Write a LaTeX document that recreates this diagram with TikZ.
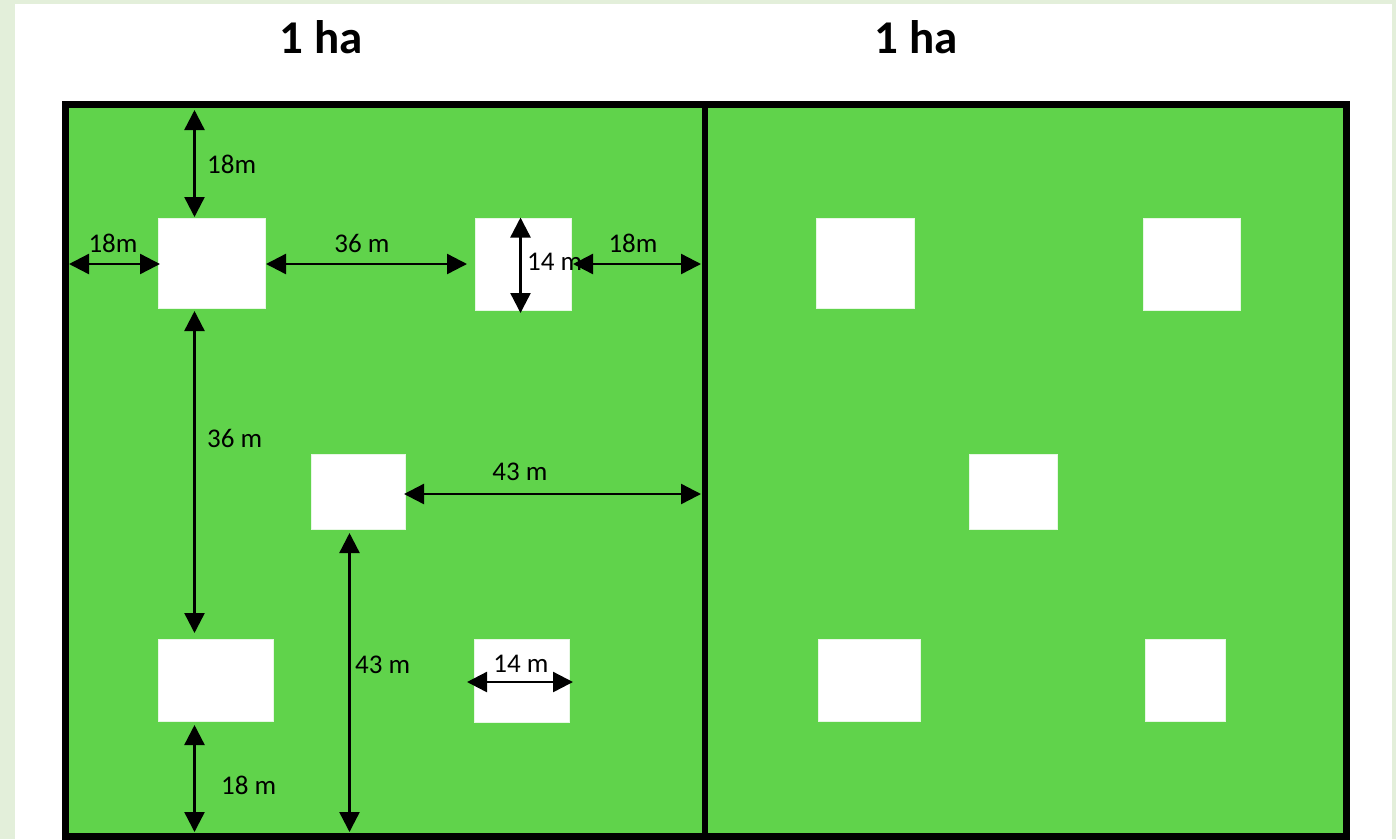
\documentclass[tikz,border=0pt]{standalone}
\usepackage{fontspec}
\setmainfont{Carlito}
\usetikzlibrary{arrows.meta}
\definecolor{bgouter}{RGB}{227,239,218}
\definecolor{field}{RGB}{96,211,75}
\begin{document}
\begin{tikzpicture}[x=1pt,y=-1pt,
  hole/.style={draw=white!85!field,line width=0.8pt,fill=white,inner sep=0pt,outer sep=0pt},
  dim/.style={line width=2.4pt,{Triangle[length=20pt,width=20pt]}-{Triangle[length=20pt,width=20pt]}},
  lbl/.style={inner sep=0pt,anchor=base,font=\fontsize{27}{30}\selectfont},
  ttl/.style={inner sep=0pt,anchor=base,font=\fontsize{47}{50}\selectfont\bfseries}]
\useasboundingbox (0,0) rectangle (1396,839);
\fill[bgouter] (0,0) rectangle (1396,839);
\fill[white] (15,4) rectangle (1392,845);
% field
\fill[field] (65.5,104.5) rectangle (1346.5,836.5);
\draw[line width=7pt] (65.5,104.5) rectangle (1346.5,836.5);
\draw[line width=6.5pt] (705,104.5) -- (705,836.5);
% titles
\node[ttl] (t1) at (321,53) {1 ha};
\node[ttl] (t2) at (916,53) {1 ha};
% holes, left plot
\node[hole,minimum width=107pt,minimum height=90pt] (L1) at (211.5,263) {};
\node[hole,minimum width=96pt,minimum height=92pt] (L2) at (523,264) {};
\node[hole,minimum width=94pt,minimum height=75pt] (L3) at (358,491.5) {};
\node[hole,minimum width=115pt,minimum height=82pt] (L4) at (215.5,680) {};
\node[hole,minimum width=95pt,minimum height=83pt] (L5) at (522,680.5) {};
% holes, right plot
\node[hole,minimum width=98pt,minimum height=90pt] (R1) at (865,263) {};
\node[hole,minimum width=97pt,minimum height=92pt] (R2) at (1191.5,264) {};
\node[hole,minimum width=88pt,minimum height=75pt] (R3) at (1013,491.5) {};
\node[hole,minimum width=102pt,minimum height=82pt] (R4) at (869,680) {};
\node[hole,minimum width=80pt,minimum height=82pt] (R5) at (1185,680) {};
% dimension end points
\coordinate (a1) at (194.5,110);  \coordinate (a2) at (194.5,217);
\coordinate (b1) at (69,264);     \coordinate (b2) at (160,264);
\coordinate (c1) at (266,264);    \coordinate (c2) at (467,264);
\coordinate (d1) at (520.5,217.5);\coordinate (d2) at (520.5,313);
\coordinate (e1) at (573,264);    \coordinate (e2) at (701,264);
\coordinate (f1) at (194.5,311);  \coordinate (f2) at (194.5,633);
\coordinate (g1) at (404,494);    \coordinate (g2) at (701,494);
\coordinate (h1) at (349.5,533);  \coordinate (h2) at (349.5,832);
\coordinate (i1) at (467,682);    \coordinate (i2) at (573,682);
\coordinate (j1) at (194.5,725);  \coordinate (j2) at (194.5,832);
\draw[dim] (a1) -- (a2);
\draw[dim] (b1) -- (b2);
\draw[dim] (c1) -- (c2);
\draw[dim] (d1) -- (d2);
\draw[dim] (e1) -- (e2);
\draw[dim] (f1) -- (f2);
\draw[dim] (g1) -- (g2);
\draw[dim] (h1) -- (h2);
\draw[dim] (i1) -- (i2);
\draw[dim] (j1) -- (j2);
% labels
\node[lbl,anchor=base west] (la) at (207,173) {18m};
\node[lbl] (lb) at (113,252) {18m};
\node[lbl] (lc) at (362,252) {36 m};
\node[lbl,anchor=base west] (ld) at (527,270) {14 m};
\node[lbl] (le) at (633,252) {18m};
\node[lbl,anchor=base west] (lf) at (207,447) {36 m};
\node[lbl] (lg) at (520,480) {43 m};
\node[lbl,anchor=base west] (lh) at (355,673) {43 m};
\node[lbl] (li) at (521,672) {14 m};
\node[lbl,anchor=base west] (lj) at (221,794) {18 m};
\end{tikzpicture}
\end{document}
